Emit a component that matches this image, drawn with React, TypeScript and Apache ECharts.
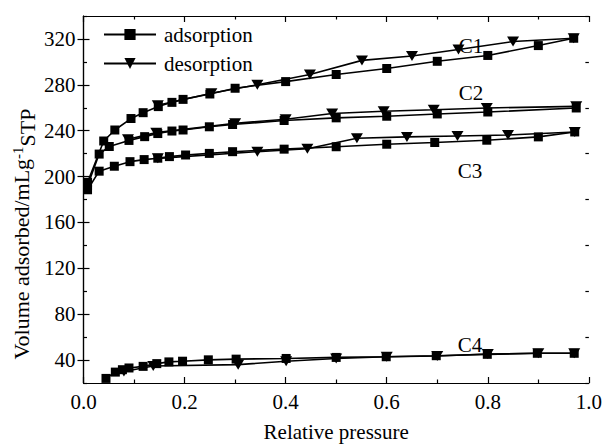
import React, { useEffect, useRef } from 'react';
import * as echarts from 'echarts';

// x = relative pressure, y = volume adsorbed
const C1_ADS = [[0.008,195],[0.04,231],[0.062,240.6],[0.094,250.6],[0.118,255.7],[0.148,261],[0.175,264.7],[0.197,267.3],[0.25,272],[0.3,277],[0.4,282.8],[0.5,289],[0.6,294.2],[0.7,300.5],[0.8,305.6],[0.9,314.2],[0.97,320.6]];
const C1_DES = [[0.97,320.6],[0.85,317.7],[0.742,310.8],[0.65,305.1],[0.551,301.3],[0.448,289],[0.344,280],[0.253,272.7],[0.147,262.1]];
const C2_ADS = [[0.008,192],[0.031,219.6],[0.051,226.2],[0.09,231.5],[0.121,234.8],[0.147,237.5],[0.175,239.7],[0.197,240.6],[0.249,243.4],[0.295,245.4],[0.397,248.9],[0.5,251.2],[0.6,252.6],[0.7,254.6],[0.8,256.3],[0.975,259.8]];
const C2_DES = [[0.975,261.2],[0.798,259.8],[0.693,258.3],[0.594,257],[0.492,255],[0.4,250],[0.3,246.5],[0.144,238.3],[0.088,232.5]];
const C3_ADS = [[0.008,188.5],[0.031,204.7],[0.061,209],[0.092,213],[0.12,214.8],[0.147,216],[0.17,217.4],[0.202,218.8],[0.249,220.2],[0.295,221.7],[0.397,223.9],[0.5,226],[0.6,228.2],[0.695,229.7],[0.798,231.7],[0.9,234.6],[0.972,238.9]];
const C3_DES = [[0.972,238.9],[0.84,236.3],[0.74,235.4],[0.64,234.6],[0.541,233.4],[0.443,224.2],[0.344,221.7],[0.147,215.9]];
const C4_ADS = [[0.0445,24],[0.063,29.5],[0.077,31.6],[0.09,33.1],[0.118,34.5],[0.145,36.9],[0.169,38.4],[0.196,39],[0.247,40.2],[0.302,40.8],[0.401,41.4],[0.5,42.3],[0.599,42.9],[0.698,43.8],[0.799,45],[0.898,45.9],[0.971,45.9]];
const C4_DES = [[0.971,45.9],[0.9,45.9],[0.8,45.3],[0.7,43.5],[0.6,42.9],[0.5,41.4],[0.401,39],[0.306,36],[0.138,34.8],[0.08,30]];

const Y_MAJOR = [40, 80, 120, 160, 200, 240, 280, 320];
const Y_MINOR = [20, 60, 100, 140, 180, 220, 260, 300, 340];
const SAMPLE_LABELS = ['C1', 'C2', 'C3', 'C4'];

const FONT = 'Liberation Serif';
const TRI = 'path://M0 0 L12 0 L6 10 Z';

export default function App() {
  const ref = useRef<HTMLDivElement>(null);
  useEffect(() => {
    const chart = echarts.init(ref.current!, null, { renderer: 'svg' });
    const lineStyle = { color: '#000', width: 1.2 };
    const ads = (data: number[][]) => ({
      type: 'line', name: 'adsorption', data, symbol: 'rect', symbolSize: 9,
      showAllSymbol: true, itemStyle: { color: '#000' }, lineStyle: { color: '#000', width: 1.6 },
      xAxisIndex: 0, yAxisIndex: 0,
    });
    const des = (data: number[][]) => ({
      type: 'line', name: 'desorption', data, symbol: TRI, symbolSize: [12, 10],
      showAllSymbol: true, itemStyle: { color: '#000' }, lineStyle: { color: '#000', width: 1.6 },
      xAxisIndex: 0, yAxisIndex: 0,
    });
    const labelPos = [[471, 46], [471, 93], [470, 171], [470, 345]];
    chart.setOption({
      animation: false,
      backgroundColor: '#fff',
      grid: { left: 83.5, right: 14, top: 16, bottom: 58 },
      legend: {
        data: ['adsorption', 'desorption'],
        orient: 'vertical', left: 98, top: 19, itemWidth: 52, itemHeight: 14, itemGap: 8,
        textStyle: { fontFamily: FONT, fontSize: 21, color: '#000', padding: [0, 0, 0, 3] },
      },
      xAxis: [
        {
          type: 'value', position: 'bottom', min: 0, max: 1, interval: 0.2,
          axisLine: { lineStyle }, splitLine: { show: false },
          axisTick: { inside: true, length: 6, lineStyle },
          minorTick: { show: true, splitNumber: 2, length: 3.5, lineStyle },
          axisLabel: { fontFamily: FONT, fontSize: 21, color: '#000', margin: 8, formatter: (v: number) => v.toFixed(1) },
          name: 'Relative pressure', nameLocation: 'middle', nameGap: 38,
          nameTextStyle: { fontFamily: FONT, fontSize: 21, color: '#000' },
        },
        {
          type: 'value', position: 'top', min: 0, max: 1, interval: 0.2,
          axisLine: { lineStyle }, splitLine: { show: false },
          axisTick: { inside: true, length: 6, lineStyle },
          minorTick: { show: true, splitNumber: 2, length: 3.5, lineStyle },
          axisLabel: { show: false },
        },
      ],
      yAxis: [
        {
          type: 'value', position: 'left', min: 20, max: 340,
          axisLine: { show: true, lineStyle }, splitLine: { show: false },
          axisTick: { show: true, inside: true, length: 6, lineStyle, customValues: Y_MAJOR },
          axisLabel: { fontFamily: FONT, fontSize: 21, color: '#000', margin: 8, customValues: Y_MAJOR },
        },
        {
          type: 'value', position: 'right', min: 20, max: 340,
          axisLine: { show: true, lineStyle }, splitLine: { show: false },
          axisTick: { show: true, inside: true, length: 6, lineStyle, customValues: Y_MAJOR },
          axisLabel: { show: false },
        },
        {
          type: 'value', position: 'left', min: 20, max: 340,
          axisLine: { show: false }, splitLine: { show: false },
          axisTick: { show: true, inside: true, length: 3.5, lineStyle, customValues: Y_MINOR },
          axisLabel: { show: false },
        },
        {
          type: 'value', position: 'right', min: 20, max: 340,
          axisLine: { show: false }, splitLine: { show: false },
          axisTick: { show: true, inside: true, length: 3.5, lineStyle, customValues: Y_MINOR },
          axisLabel: { show: false },
        },
      ],
      graphic: [
        {
          type: 'text', x: 39, y: 234, rotation: Math.PI / 2,
          style: {
            text: '{a|Volume adsorbed/mLg}{b|-1}{c|STP}',
            align: 'center', verticalAlign: 'middle', fill: '#000',
            rich: {
              a: { fontFamily: FONT, fontSize: 22, lineHeight: 58, verticalAlign: 'top', fill: '#000' },
              b: { fontFamily: FONT, fontSize: 15, lineHeight: 14, padding: [0, 0, 44, 0], verticalAlign: 'top', fill: '#000' },
              c: { fontFamily: FONT, fontSize: 22, lineHeight: 52, padding: [6, 0, 0, 0], verticalAlign: 'top', fill: '#000' },
            },
          },
        },
        ...SAMPLE_LABELS.map((t, i) => ({
          type: 'text', x: labelPos[i][0], y: labelPos[i][1],
          style: { text: t, fontFamily: FONT, fontSize: 21, fill: '#000', align: 'center', verticalAlign: 'middle' },
        })),
      ],
      series: [ads(C1_ADS), des(C1_DES), ads(C2_ADS), des(C2_DES), ads(C3_ADS), des(C3_DES), ads(C4_ADS), des(C4_DES)],
    });
    return () => chart.dispose();
  }, []);
  return <div ref={ref} style={{ position: 'fixed', left: 0, top: 0, width: 605, height: 447 }} />;
}
